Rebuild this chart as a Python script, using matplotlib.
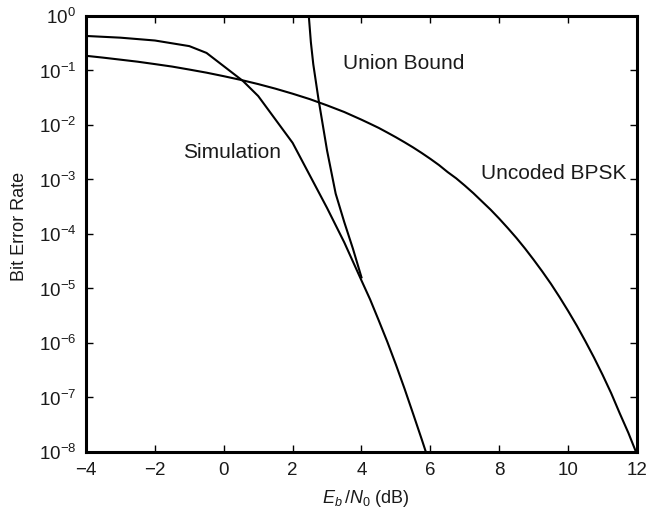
import matplotlib
matplotlib.use("Agg")
import matplotlib.pyplot as plt
from matplotlib.ticker import LogFormatterMathtext, NullLocator, FixedLocator

plt.rcParams['font.family'] = ['Liberation Sans', 'DejaVu Sans']
plt.rcParams['mathtext.fontset'] = 'custom'
plt.rcParams['mathtext.rm'] = 'Liberation Sans'
plt.rcParams['mathtext.it'] = 'Liberation Sans:italic'
plt.rcParams['mathtext.bf'] = 'Liberation Sans:bold'

# Uncoded BPSK bit error rate
bpsk_ebn0 = [-4, -3.5, -3, -2.5, -2, -1.5, -1, -0.5, 0, 0.5, 1, 1.5, 2, 2.5,
             3, 3.5, 4, 4.25, 4.5, 4.75, 5, 5.25, 5.5, 5.75, 6, 6.25, 6.5,
             6.75, 7, 7.25, 7.5, 7.75, 8, 8.25, 8.5, 8.75, 9, 9.25, 9.5, 9.75,
             10, 10.25, 10.5, 10.75, 11, 11.25, 11.5, 11.75, 12]
bpsk_ber = [0.186, 0.172, 0.158, 0.145, 0.131, 0.118, 0.104, 0.0912, 0.0786,
            0.0671, 0.0563, 0.0464, 0.0375, 0.0298, 0.0229, 0.0173, 0.0125,
            0.01053, 0.00884, 0.00727, 0.00595, 0.00482, 0.00387, 0.00306,
            0.00239, 0.00184, 0.00137, 0.00105, 7.73e-4, 5.6e-4, 3.95e-4,
            2.79e-4, 1.91e-4, 1.28e-4, 8.44e-5, 5.4e-5, 3.36e-5, 2.05e-5,
            1.22e-5, 6.97e-6, 3.87e-6, 2.09e-6, 1.08e-6, 5.43e-7, 2.61e-7,
            1.2e-7, 5.1e-8, 2.24e-8, 9.0e-9]

# Simulated coded system
sim_ebn0 = [-4, -3, -2, -1, -0.5, 0, 0.56, 1, 2, 3, 3.5, 4, 4.25, 4.5, 4.75,
            5, 5.25, 5.5, 5.75, 6]
sim_ber = [0.43, 0.40, 0.355, 0.28, 0.21, 0.12, 0.064, 0.034, 0.0047,
           3.0e-4, 7.0e-5, 1.4e-5, 6.3e-6, 2.6e-6, 1.05e-6, 4.0e-7, 1.45e-7,
           5.0e-8, 1.7e-8, 5.6e-9]

# Union bound
ub_ebn0 = [2.47, 2.53, 2.6, 2.75, 3.0, 3.25, 3.5, 3.75, 4.0]
ub_ber = [1.0, 0.33, 0.13, 0.03, 3.4e-3, 5.5e-4, 1.65e-4, 5.4e-5, 1.6e-5]

x_ticks = [-4, -2, 0, 2, 4, 6, 8, 10, 12]
x_tick_labels = ['\u22124', '\u22122', '0', '2', '4', '6', '8', '10', '12']
y_ticks = [1e-8, 1e-7, 1e-6, 1e-5, 1e-4, 1e-3, 1e-2, 1e-1, 1e0]

text_color = '#1a1a1a'

fig = plt.figure(figsize=(6.5, 5.19), dpi=100)
ax = fig.add_axes([0.1323, 0.1291, 0.8477, 0.8401])

line_kw = dict(color='black', lw=1.5, solid_joinstyle='miter')
ax.semilogy(bpsk_ebn0, bpsk_ber, **line_kw)
ax.semilogy(sim_ebn0, sim_ber, **line_kw)
ax.semilogy(ub_ebn0, ub_ber, **line_kw)

ax.set_xlim(-4, 12)
ax.set_ylim(1e-8, 1e0)
ax.xaxis.set_major_locator(FixedLocator(x_ticks))
ax.yaxis.set_major_locator(FixedLocator(y_ticks))
ax.yaxis.set_major_formatter(LogFormatterMathtext())
ax.xaxis.set_minor_locator(NullLocator())
ax.yaxis.set_minor_locator(NullLocator())
ax.set_xticklabels(x_tick_labels)

ax.tick_params(which='major', direction='in', top=True, right=True,
               length=5, width=1, labelsize=13.5, colors='black',
               labelcolor=text_color)
ax.tick_params(axis='y', pad=7)
ax.tick_params(axis='x', pad=7)
for s in ax.spines.values():
    s.set_linewidth(2.2)

ax.set_xlabel(r'$E_b\,/N_0$ (dB)', fontsize=13, color=text_color)
ax.set_ylabel('Bit Error Rate', fontsize=13, color=text_color)
ax.xaxis.set_label_coords(0.508, -0.083)
ax.yaxis.set_label_coords(-0.105, 0.518)

ax.text(5.23, 0.137, 'Union Bound', fontsize=15, ha='center', va='center',
        color=text_color)
ax.text(0.24, 3.1e-3, 'Simulation', fontsize=15, ha='center', va='center',
        color=text_color)
ax.text(9.59, 1.3e-3, 'Uncoded BPSK', fontsize=15, ha='center', va='center',
        color=text_color)

fig.savefig('out.png', dpi=100)
